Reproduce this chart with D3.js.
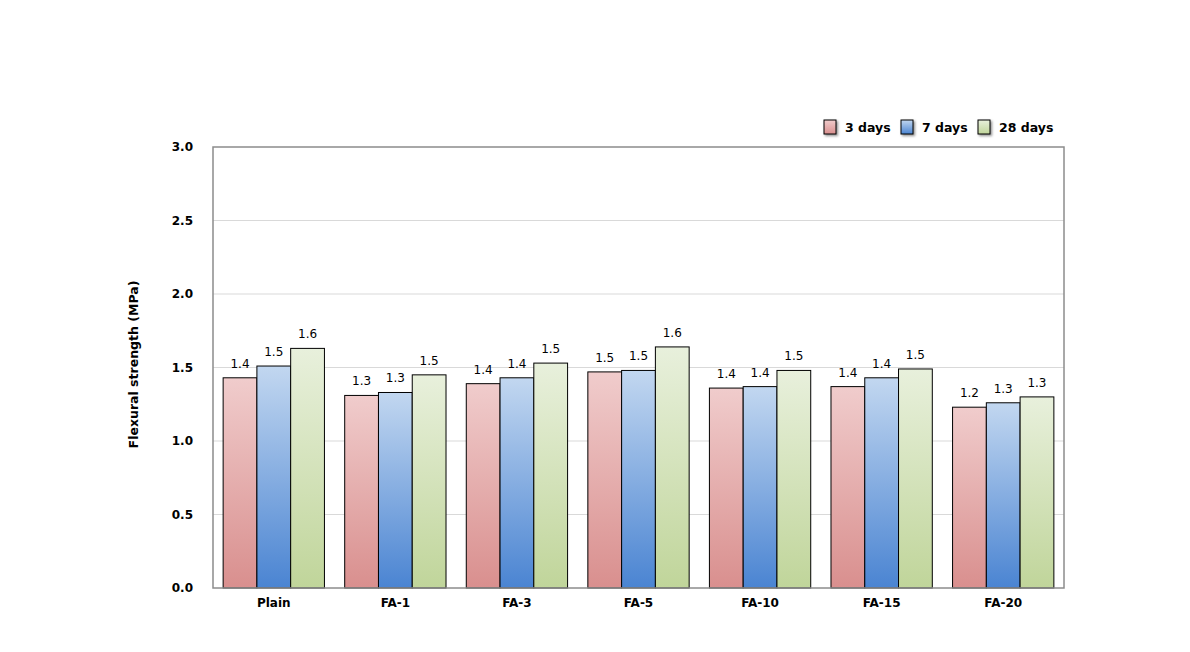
<!DOCTYPE html>
<html><head><meta charset="utf-8">
<script src="https://cdn.jsdelivr.net/npm/d3@7"></script>
<style>body{margin:0;background:#fff;} svg{display:block;}</style>
</head><body>
<svg id="c" width="1190" height="652"></svg>
<script>
const categories = ["Plain","FA-1","FA-3","FA-5","FA-10","FA-15","FA-20"];
const seriesNames = ["3 days","7 days","28 days"];
const days3 = [1.43,1.31,1.39,1.47,1.36,1.37,1.23];
const days7 = [1.51,1.33,1.43,1.48,1.37,1.43,1.26];
const days28 = [1.63,1.45,1.53,1.64,1.48,1.49,1.30];
const labels3 = ["1.4","1.3","1.4","1.5","1.4","1.4","1.2"];
const labels7 = ["1.5","1.3","1.4","1.5","1.4","1.4","1.3"];
const labels28 = ["1.6","1.5","1.5","1.6","1.5","1.5","1.3"];
const yTicks = [0,0.5,1.0,1.5,2.0,2.5,3.0];

const series = [days3, days7, days28];
const seriesLabels = [labels3, labels7, labels28];
const gradStops = [["#f0cccc","#d98f8e"],["#c2d7f0","#4a84d2"],["#e8f0dc","#c0d59a"]];

const svg = d3.select("#c");
const L=213, R=1064, T=147, B=588;
const font = "'DejaVu Sans',sans-serif";

const defs = svg.append("defs");
gradStops.forEach((s,i)=>{
  const g = defs.append("linearGradient").attr("id","g"+i).attr("x1",0).attr("y1",0).attr("x2",0).attr("y2",1);
  g.append("stop").attr("offset","0%").attr("stop-color",s[0]);
  g.append("stop").attr("offset","100%").attr("stop-color",s[1]);
});
const f = defs.append("filter").attr("id","sh").attr("x","-30%").attr("y","-30%").attr("width","180%").attr("height","180%");
f.append("feDropShadow").attr("dx",1.5).attr("dy",1.5).attr("stdDeviation",1).attr("flood-color","#000").attr("flood-opacity",0.45);

const x = d3.scaleBand().domain(categories).range([L,R]).paddingInner(0).paddingOuter(0);
const xs = d3.scaleBand().domain([0,1,2]).range([0,x.bandwidth()]).paddingInner(0).paddingOuter(0.3);
const y = d3.scaleLinear().domain([0,3]).range([B,T]);

// gridlines
svg.append("g").selectAll("line").data(yTicks.filter(t=>t>0&&t<3)).join("line")
  .attr("x1",L).attr("x2",R).attr("y1",d=>y(d)).attr("y2",d=>y(d))
  .attr("stroke","#d9d9d9").attr("stroke-width",1);

// bars
series.forEach((vals,si)=>{
  const g = svg.append("g");
  g.selectAll("rect").data(vals).join("rect")
    .attr("x",(d,i)=>x(categories[i])+xs(si))
    .attr("y",d=>y(d))
    .attr("width",xs.bandwidth())
    .attr("height",d=>B-y(d))
    .attr("fill","url(#g"+si+")")
    .attr("stroke","#000").attr("stroke-width",1);
  g.selectAll("text").data(vals).join("text")
    .attr("x",(d,i)=>x(categories[i])+xs(si)+xs.bandwidth()/2)
    .attr("y",d=>y(d)-10)
    .attr("text-anchor","middle")
    .attr("font-family",font).attr("font-size",12).attr("fill","#000")
    .text((d,i)=>seriesLabels[si][i]);
});

// plot border
svg.append("rect").attr("x",L).attr("y",T).attr("width",R-L).attr("height",B-T)
  .attr("fill","none").attr("stroke","#8c8c8c").attr("stroke-width",1.5);

// y axis
const yAxis = d3.axisLeft(y).tickValues(yTicks).tickFormat(d3.format(".1f")).tickSize(0).tickPadding(20);
const ya = svg.append("g").attr("transform",`translate(${L},0)`).call(yAxis);
ya.select(".domain").remove();
ya.selectAll("text").attr("font-family",font).attr("font-size",12).attr("font-weight","bold").attr("fill","#000");

// x axis
const xAxis = d3.axisBottom(x).tickSize(0).tickPadding(10);
const xa = svg.append("g").attr("transform",`translate(0,${B})`).call(xAxis);
xa.select(".domain").remove();
xa.selectAll("text").attr("font-family",font).attr("font-size",12).attr("font-weight","bold").attr("fill","#000");

// y label
svg.append("text").attr("transform",`translate(138,${(T+B)/2-3}) rotate(-90)`)
  .attr("text-anchor","middle").attr("font-family",font).attr("font-size",12.5).attr("font-weight","bold")
  .text("Flexural strength (MPa)");

// legend
const legX = [824,901,978];
const lg = svg.append("g");
seriesNames.forEach((n,i)=>{
  lg.append("rect").attr("x",legX[i]).attr("y",120).attr("width",12).attr("height",14)
    .attr("fill","url(#g"+i+")").attr("stroke","#000").attr("stroke-width",1).attr("filter","url(#sh)");
  lg.append("text").attr("x",legX[i]+21).attr("y",132).attr("font-family",font).attr("font-size",12.5).attr("font-weight","bold").text(n);
});
</script>
</body></html>
